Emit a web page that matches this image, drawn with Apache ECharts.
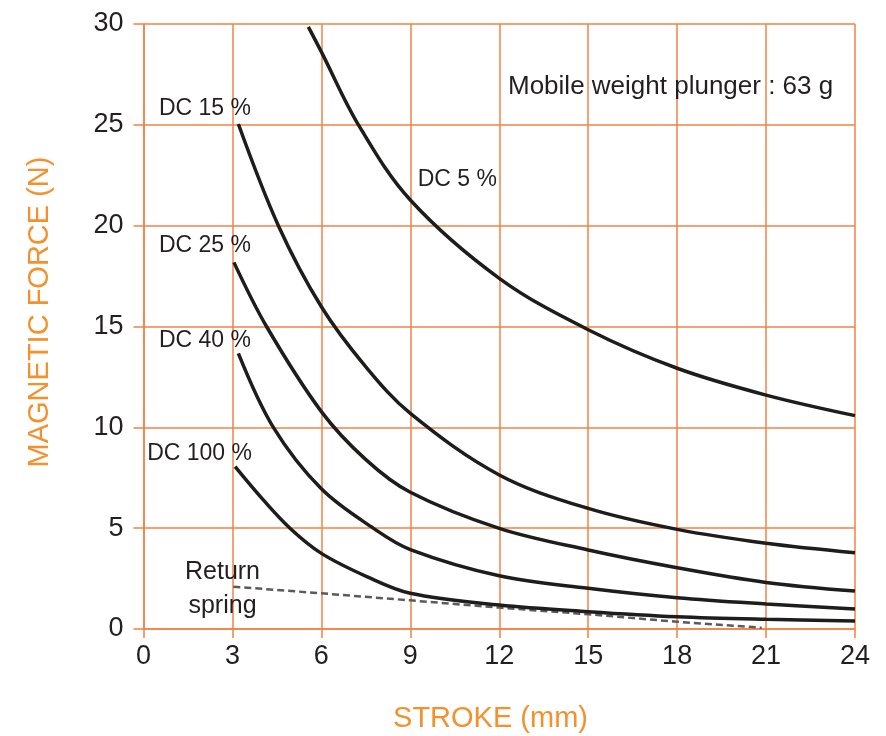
<!DOCTYPE html>
<html>
<head>
<meta charset="utf-8">
<script src="https://cdn.jsdelivr.net/npm/echarts@6/dist/echarts.min.js"></script>
<style>
html,body{margin:0;padding:0;background:#fff;}
#chart{width:886px;height:736px;}
</style>
</head>
<body>
<div id="chart"></div>
<script>
// ---- data (stroke mm, force N) ----
const xTicks = [0, 3, 6, 9, 12, 15, 18, 21, 24];
const yTicks = [0, 5, 10, 15, 20, 25, 30];

const dc5 = [[5.56,29.86],[6,28.62],[7.25,25],[9,21.27],[12,17.39],[15,14.84],[18,12.93],[21,11.6],[24,10.58]];
const dc15 = [[3.2,25.04],[4.55,20],[6,15.98],[7.5,13.0],[9,10.69],[12,7.64],[15,5.98],[18,4.94],[21,4.25],[24,3.78]];
const dc25 = [[3.05,18.18],[4.15,15],[6,10.78],[7.5,8.4],[9,6.78],[12,4.99],[15,3.92],[18,3.04],[21,2.31],[24,1.88]];
const dc40 = [[3.2,13.67],[4.38,10],[6,6.95],[7.75,5],[9,3.94],[12,2.64],[15,2.02],[18,1.55],[21,1.24],[24,0.99]];
const dc100 = [[3.09,8.05],[4.04,6.4],[4.94,5],[6,3.75],[7.53,2.6],[9,1.77],[12,1.19],[15,0.86],[18,0.61],[21,0.48],[24,0.4]];
const returnSpring = [[3.03,2.1],[6,1.77],[9,1.42],[12,1.06],[15,0.73],[18,0.36],[20.85,0.06]];

const curveNames = ['DC 5 %','DC 15 %','DC 25 %','DC 40 %','DC 100 %'];
const curves = [dc5, dc15, dc25, dc40, dc100];

// ---- styles ----
const GRID = '#F08246';
const TXT = '#231f20';
const TITLE = '#F2922F';
const FONT = '"Liberation Sans", Arial, Helvetica, sans-serif';

const chart = echarts.init(document.getElementById('chart'), null, {renderer:'canvas'});

const series = curves.map((d, i) => ({
  name: curveNames[i],
  type: 'line',
  data: d,
  smooth: 0.35,
  showSymbol: false,
  symbol: 'none',
  lineStyle: {color: '#1d1d1b', width: 3.5},
  z: 5
}));
series.push({
  name: 'Return spring',
  type: 'line',
  data: returnSpring,
  smooth: false,
  symbol: 'none',
  lineStyle: {color: '#5a5a5a', width: 2.5, type: [7, 4]},
  z: 4
});

function txt(text, x, y, size, opts) {
  return {
    type: 'text', x: x, y: y, z: 10,
    style: Object.assign({
      text: text, fill: TXT, font: size + 'px ' + FONT,
      align: 'left', verticalAlign: 'middle'
    }, opts || {})
  };
}

chart.setOption({
  animation: false,
  backgroundColor: '#ffffff',
  grid: {left: 143.5, right: 31, top: 24, bottom: 107, containLabel: false},
  xAxis: {
    type: 'value', min: 0, max: 24, interval: 3,
    axisLine: {show: true, lineStyle: {color: GRID, width: 1.5}},
    axisTick: {show: true, length: 9, lineStyle: {color: GRID, width: 1.5}},
    splitLine: {show: true, lineStyle: {color: GRID, width: 1.5}},
    axisLabel: {color: TXT, fontSize: 27, fontFamily: FONT, margin: 14,
      formatter: v => xTicks.includes(v) ? String(v) : ''}
  },
  yAxis: {
    type: 'value', min: 0, max: 30, interval: 5,
    axisLine: {show: true, lineStyle: {color: GRID, width: 1.5}},
    axisTick: {show: true, length: 10, lineStyle: {color: GRID, width: 1.5}},
    splitLine: {show: true, lineStyle: {color: GRID, width: 1.5}},
    axisLabel: {color: TXT, fontSize: 27, fontFamily: FONT, margin: 20,
      formatter: v => yTicks.includes(v) ? String(v) : ''}
  },
  series: series,
  graphic: [
    txt('DC 5 %', 497, 180, 23, {align: 'right'}),
    txt('DC 15 %', 251, 109, 23, {align: 'right'}),
    txt('DC 25 %', 251, 246, 23, {align: 'right'}),
    txt('DC 40 %', 251, 341, 23, {align: 'right'}),
    txt('DC 100 %', 252, 454, 23, {align: 'right'}),
    txt('Mobile weight plunger : 63 g', 508, 87, 26),
    txt('Return', 222.5, 572, 25, {align: 'center'}),
    txt('spring', 222.5, 606, 25, {align: 'center'}),
    {
      type: 'text', x: 40, y: 312, rotation: Math.PI / 2, z: 10,
      style: {text: 'MAGNETIC FORCE (N)', fill: TITLE, font: '29px ' + FONT,
        align: 'center', verticalAlign: 'middle'}
    },
    txt('STROKE (mm)', 490.5, 719, 29, {align: 'center', fill: TITLE})
  ]
});
</script>
</body>
</html>
